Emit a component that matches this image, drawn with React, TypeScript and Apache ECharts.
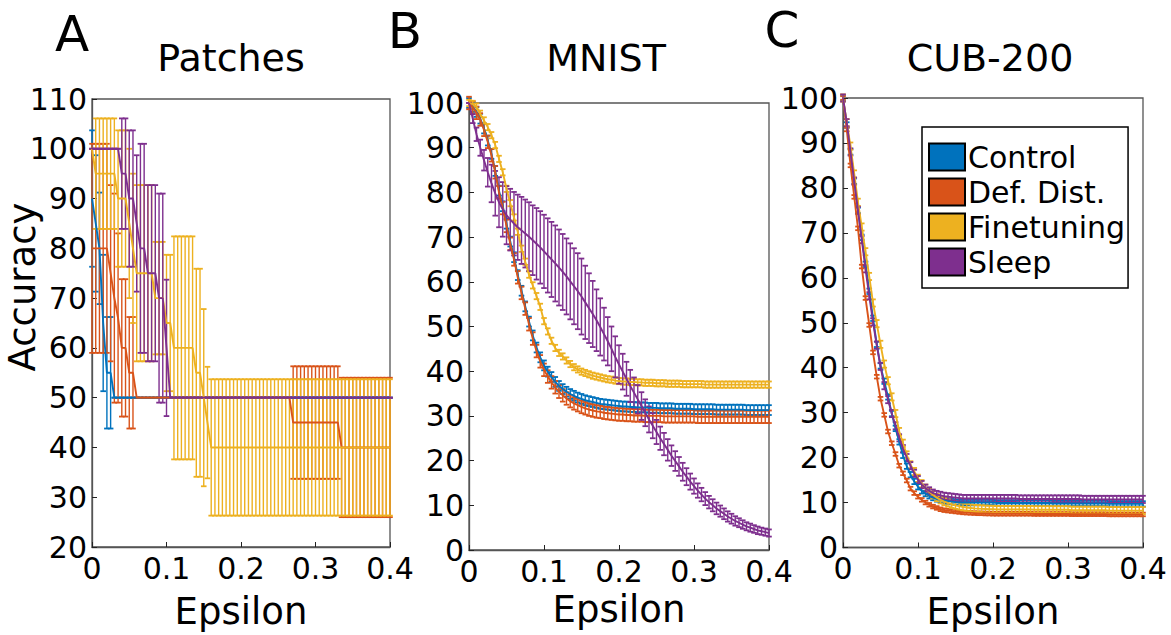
import React, { useEffect, useRef } from 'react';
import * as echarts from 'echarts';

// Epsilon values (x) shared by all panels
const EPS = [
  0, 0.005, 0.01, 0.015, 0.02, 0.025, 0.03, 0.035, 0.04, 0.045,
  0.05, 0.055, 0.06, 0.065, 0.07, 0.075, 0.08, 0.085, 0.09, 0.095,
  0.1, 0.105, 0.11, 0.115, 0.12, 0.125, 0.13, 0.135, 0.14, 0.145,
  0.15, 0.155, 0.16, 0.165, 0.17, 0.175, 0.18, 0.185, 0.19, 0.195,
  0.2, 0.205, 0.21, 0.215, 0.22, 0.225, 0.23, 0.235, 0.24, 0.245,
  0.25, 0.255, 0.26, 0.265, 0.27, 0.275, 0.28, 0.285, 0.29, 0.295,
  0.3, 0.305, 0.31, 0.315, 0.32, 0.325, 0.33, 0.335, 0.34, 0.345,
  0.35, 0.355, 0.36, 0.365, 0.37, 0.375, 0.38, 0.385, 0.39, 0.395,
  0.4,
];

const SERIES_NAMES = ['Control', 'Def. Dist.', 'Finetuning', 'Sleep'];
const SERIES_COLORS = ['#0072BD', '#D95319', '#EDB120', '#7E2F8E'];
const PANEL_TITLES = ['Patches', 'MNIST', 'CUB-200'];
const PANEL_LETTERS = ['A', 'B', 'C'];
const X_TICKS = [0, 0.1, 0.2, 0.3, 0.4];

// ---------- Panel A: Patches ----------
const A_CONTROL = [
  90, 85, 80, 65, 55, 55, 50, 50, 50, 50,
  50, 50, 50, 50, 50, 50, 50, 50, 50, 50,
  50, 50, 50, 50, 50, 50, 50, 50, 50, 50,
  50, 50, 50, 50, 50, 50, 50, 50, 50, 50,
  50, 50, 50, 50, 50, 50, 50, 50, 50, 50,
  50, 50, 50, 50, 50, 50, 50, 50, 50, 50,
  50, 50, 50, 50, 50, 50, 50, 50, 50, 50,
  50, 50, 50, 50, 50, 50, 50, 50, 50, 50,
  50,
];
const A_CONTROL_ERR = [
  13.7, 13.7, 11.2, 13.7, 11.2, 11.2, 0, 0, 0, 0,
  0, 0, 0, 0, 0, 0, 0, 0, 0, 0,
  0, 0, 0, 0, 0, 0, 0, 0, 0, 0,
  0, 0, 0, 0, 0, 0, 0, 0, 0, 0,
  0, 0, 0, 0, 0, 0, 0, 0, 0, 0,
  0, 0, 0, 0, 0, 0, 0, 0, 0, 0,
  0, 0, 0, 0, 0, 0, 0, 0, 0, 0,
  0, 0, 0, 0, 0, 0, 0, 0, 0, 0,
  0,
];
const A_DEFDIST = [
  80, 80, 80, 80, 80, 75, 70, 66, 60, 60,
  55, 55, 50, 50, 50, 50, 50, 50, 50, 50,
  50, 50, 50, 50, 50, 50, 50, 50, 50, 50,
  50, 50, 50, 50, 50, 50, 50, 50, 50, 50,
  50, 50, 50, 50, 50, 50, 50, 50, 50, 50,
  50, 50, 50, 50, 45, 45, 45, 45, 45, 45,
  45, 45, 45, 45, 45, 45, 45, 40, 40, 40,
  40, 40, 40, 40, 40, 40, 40, 40, 40, 40,
  40,
];
const A_DEFDIST_ERR = [
  21, 21, 21, 21, 21, 17.7, 21, 17, 13.8, 13.8,
  11.2, 11.2, 0, 0, 0, 0, 0, 0, 0, 0,
  0, 0, 0, 0, 0, 0, 0, 0, 0, 0,
  0, 0, 0, 0, 0, 0, 0, 0, 0, 0,
  0, 0, 0, 0, 0, 0, 0, 0, 0, 0,
  0, 0, 0, 0, 11.3, 11.3, 11.3, 11.3, 11.3, 11.3,
  11.3, 11.3, 11.3, 11.3, 11.3, 11.3, 11.3, 14, 14, 14,
  14, 14, 14, 14, 14, 14, 14, 14, 14, 14,
  14,
];
const A_FINETUNING = [
  100, 95, 95, 95, 95, 95, 95, 90, 90, 90,
  85, 80, 75, 75, 75, 75, 75, 70, 70, 70,
  65, 65, 60, 60, 60, 60, 60, 60, 55, 55,
  50, 45, 40, 40, 40, 40, 40, 40, 40, 40,
  40, 40, 40, 40, 40, 40, 40, 40, 40, 40,
  40, 40, 40, 40, 40, 40, 40, 40, 40, 40,
  40, 40, 40, 40, 40, 40, 40, 40, 40, 40,
  40, 40, 40, 40, 40, 40, 40, 40, 40, 40,
  40,
];
const A_FINETUNING_ERR = [
  0, 11.1, 11.1, 11.1, 11.1, 11.1, 11.1, 13.7, 13.7, 13.7,
  15, 15, 17.7, 17.7, 17.7, 17.7, 17.7, 11.3, 11.3, 11.3,
  13.7, 13.7, 22.4, 22.4, 22.4, 22.4, 22.4, 22.4, 20.9, 20.9,
  17.8, 11.2, 13.7, 13.7, 13.7, 13.7, 13.7, 13.7, 13.7, 13.7,
  13.7, 13.7, 13.7, 13.7, 13.7, 13.7, 13.7, 13.7, 13.7, 13.7,
  13.7, 13.7, 13.7, 13.7, 13.7, 13.7, 13.7, 13.7, 13.7, 13.7,
  13.7, 13.7, 13.7, 13.7, 13.7, 13.7, 13.7, 13.7, 13.7, 13.7,
  13.7, 13.7, 13.7, 13.7, 13.7, 13.7, 13.7, 13.7, 13.7, 13.7,
  13.7,
];
const A_SLEEP = [
  100, 100, 100, 100, 100, 100, 100, 100, 95, 95,
  90, 90, 85, 80, 80, 75, 75, 75, 70, 70,
  60, 50, 50, 50, 50, 50, 50, 50, 50, 50,
  50, 50, 50, 50, 50, 50, 50, 50, 50, 50,
  50, 50, 50, 50, 50, 50, 50, 50, 50, 50,
  50, 50, 50, 50, 50, 50, 50, 50, 50, 50,
  50, 50, 50, 50, 50, 50, 50, 50, 50, 50,
  50, 50, 50, 50, 50, 50, 50, 50, 50, 50,
  50,
];
const A_SLEEP_ERR = [
  0, 0, 0, 0, 0, 0, 0, 0, 11.1, 11.1,
  13.7, 13.7, 13.7, 21, 21, 17.7, 17.7, 17.7, 21, 21,
  13.7, 0, 0, 0, 0, 0, 0, 0, 0, 0,
  0, 0, 0, 0, 0, 0, 0, 0, 0, 0,
  0, 0, 0, 0, 0, 0, 0, 0, 0, 0,
  0, 0, 0, 0, 0, 0, 0, 0, 0, 0,
  0, 0, 0, 0, 0, 0, 0, 0, 0, 0,
  0, 0, 0, 0, 0, 0, 0, 0, 0, 0,
  0,
];

// ---------- Panel B: MNIST ----------
const B_CONTROL = [
  100, 99.1, 98, 96.5, 94.3, 91.6, 88.6, 84.8, 80.4, 76.9,
  73, 69, 65.5, 61.5, 58, 54.5, 51.1, 48, 45.3, 43.1,
  41.3, 39.9, 38.7, 37.6, 36.7, 36, 35.4, 34.9, 34.5, 34.1,
  33.8, 33.5, 33.3, 33.1, 32.9, 32.7, 32.6, 32.5, 32.4, 32.3,
  32.2, 32.1, 32.1, 32, 32, 31.9, 31.9, 31.9, 31.8, 31.8,
  31.8, 31.7, 31.7, 31.7, 31.7, 31.6, 31.6, 31.6, 31.6, 31.6,
  31.5, 31.5, 31.5, 31.5, 31.5, 31.5, 31.4, 31.4, 31.4, 31.4,
  31.4, 31.4, 31.4, 31.4, 31.3, 31.3, 31.3, 31.3, 31.3, 31.3,
  31.3,
];
const B_CONTROL_ERR = 1.1;
const B_DEFDIST = [
  100, 99, 97.8, 96.3, 94, 91.3, 88.3, 84.5, 80, 76.5,
  72.5, 68.5, 65, 61, 57.5, 54, 50.5, 47.3, 44.5, 42.2,
  40.3, 38.8, 37.5, 36.4, 35.4, 34.6, 33.9, 33.3, 32.8, 32.4,
  32, 31.7, 31.4, 31.2, 31, 30.9, 30.7, 30.6, 30.5, 30.4,
  30.3, 30.3, 30.2, 30.2, 30.1, 30.1, 30.1, 30, 30, 30,
  30, 30, 29.9, 29.9, 29.9, 29.9, 29.9, 29.9, 29.9, 29.9,
  29.9, 29.8, 29.8, 29.8, 29.8, 29.8, 29.8, 29.8, 29.8, 29.8,
  29.8, 29.8, 29.8, 29.8, 29.8, 29.8, 29.8, 29.8, 29.8, 29.8,
  29.8,
];
const B_DEFDIST_ERR = 1.4;
const B_FINETUNING = [
  100, 99.8, 99.2, 97.6, 96.1, 94.6, 92.8, 90.6, 87.5, 84.5,
  80.8, 77.6, 74.4, 71.2, 67.4, 64.5, 61.6, 59.2, 56.8, 54.4,
  51.2, 48.9, 46.8, 45.2, 44.1, 43.3, 42.4, 41.6, 40.9, 40.4,
  39.9, 39.6, 39.3, 39, 38.8, 38.6, 38.4, 38.2, 38.1, 37.9,
  37.8, 37.7, 37.7, 37.6, 37.6, 37.5, 37.5, 37.4, 37.4, 37.4,
  37.3, 37.3, 37.3, 37.2, 37.2, 37.2, 37.2, 37.1, 37.1, 37.1,
  37.1, 37.1, 37.1, 37, 37, 37, 37, 37, 37, 37,
  37, 37, 37, 37, 37, 37, 37, 37, 37, 37,
  37,
];
const B_FINETUNING_ERR = 0.7;
const B_SLEEP = [
  100, 96.5, 93, 90, 87.2, 84.5, 82, 79.8, 77.8, 76.2,
  74.9, 73.9, 73, 72.2, 71.5, 70.8, 70.1, 69.3, 68.5, 67.7,
  66.8, 65.9, 65, 64.1, 63.2, 62.2, 61.2, 60.1, 59, 57.9,
  56.7, 55.4, 54.1, 52.8, 51.4, 49.9, 48.3, 46.7, 45, 43.2,
  41.5, 39.9, 38.3, 36.7, 35.2, 33.7, 32.2, 30.7, 29.2, 27.8,
  26.4, 25, 23.7, 22.4, 21.1, 19.9, 18.7, 17.5, 16.4, 15.3,
  14.3, 13.3, 12.4, 11.5, 10.7, 10, 9.3, 8.7, 8.1, 7.5,
  7, 6.5, 6.1, 5.7, 5.3, 5, 4.7, 4.4, 4.2, 4,
  3.8,
];
const B_SLEEP_ERR = [
  0, 1, 1.5, 1.8, 2.3, 3.2, 4.2, 5, 5.6, 6.1,
  6.5, 6.9, 7.1, 7.3, 7.5, 7.6, 7.7, 7.8, 8, 8.1,
  8.2, 8.3, 8.4, 8.5, 8.5, 8.5, 8.5, 8.5, 8.5, 8.5,
  8.5, 8.2, 7.8, 7.4, 6.9, 6.4, 5.9, 5.4, 5, 4.6,
  4.3, 4, 3.8, 3.6, 3.4, 3.2, 3.1, 3, 2.9, 2.8,
  2.7, 2.6, 2.5, 2.4, 2.3, 2.2, 2.1, 2, 1.9, 1.8,
  1.7, 1.6, 1.5, 1.45, 1.4, 1.35, 1.3, 1.25, 1.2, 1.15,
  1.1, 1.05, 1, 0.95, 0.9, 0.9, 0.85, 0.85, 0.8, 0.8,
  0.8,
];

// ---------- Panel C: CUB-200 ----------
const C_CONTROL = [
  100, 94, 88, 81.5, 75, 69, 63, 57, 51, 45.2,
  40.4, 37, 33.5, 29.8, 26.5, 23.5, 20.5, 18.1, 16.2, 14.7,
  13.5, 12.6, 12, 11.5, 11.1, 10.8, 10.6, 10.4, 10.3, 10.2,
  10.1, 10, 10, 10, 10, 10, 10, 10, 10, 10,
  10, 9.9, 9.9, 9.9, 9.9, 9.9, 9.9, 9.9, 9.9, 9.9,
  9.9, 9.9, 9.9, 9.9, 9.9, 9.9, 9.8, 9.8, 9.8, 9.8,
  9.8, 9.8, 9.8, 9.8, 9.8, 9.8, 9.8, 9.8, 9.8, 9.8,
  9.8, 9.7, 9.7, 9.7, 9.7, 9.7, 9.7, 9.7, 9.7, 9.7,
  9.7,
];
const C_CONTROL_ERR = 0.6;
const C_DEFDIST = [
  100, 93, 85, 78, 71, 62.5, 55.5, 49.5, 43.4, 38,
  33.1, 29.5, 25.8, 23.2, 20.8, 18.2, 16.5, 14.9, 13.1, 12.1,
  11.3, 10.6, 10, 9.5, 9.1, 8.8, 8.5, 8.3, 8.2, 8.1,
  8, 7.9, 7.8, 7.75, 7.7, 7.65, 7.6, 7.6, 7.55, 7.55,
  7.5, 7.5, 7.5, 7.5, 7.5, 7.5, 7.5, 7.5, 7.5, 7.5,
  7.5, 7.45, 7.45, 7.45, 7.45, 7.45, 7.45, 7.45, 7.45, 7.45,
  7.45, 7.4, 7.4, 7.4, 7.4, 7.4, 7.4, 7.4, 7.4, 7.4,
  7.4, 7.35, 7.35, 7.35, 7.35, 7.35, 7.35, 7.35, 7.35, 7.35,
  7.35,
];
const C_DEFDIST_ERR = 0.4;
const C_FINETUNING = [
  100, 94.5, 89.3, 83.1, 76.8, 71.3, 65.8, 60.3, 54.4, 49.8,
  45.2, 40.8, 37.1, 33.5, 29.8, 25.8, 23.2, 20.6, 18.4, 16.9,
  15.4, 14.2, 13.2, 12.4, 11.7, 11.1, 10.6, 10.2, 9.9, 9.6,
  9.4, 9.2, 9, 8.9, 8.8, 8.7, 8.65, 8.6, 8.55, 8.5,
  8.5, 8.45, 8.45, 8.45, 8.45, 8.45, 8.45, 8.45, 8.45, 8.45,
  8.45, 8.4, 8.4, 8.4, 8.4, 8.4, 8.4, 8.4, 8.4, 8.4,
  8.4, 8.3, 8.3, 8.3, 8.3, 8.3, 8.3, 8.3, 8.3, 8.3,
  8.3, 8.2, 8.2, 8.2, 8.2, 8.2, 8.2, 8.2, 8.2, 8.2,
  8.2,
];
const C_FINETUNING_ERR = 0.8;
const C_SLEEP = [
  100, 94.5, 88, 81.5, 75, 68.5, 62, 56, 50.2, 45,
  40.3, 36, 32.9, 29.8, 27.1, 24.4, 22, 20, 18.2, 16.5,
  15.1, 14, 13.2, 12.6, 12.1, 11.8, 11.6, 11.4, 11.3, 11.2,
  11.1, 11, 10.9, 10.9, 10.9, 10.9, 10.9, 10.9, 10.9, 10.9,
  10.9, 10.9, 10.9, 10.9, 10.9, 10.9, 10.9, 10.8, 10.8, 10.8,
  10.8, 10.8, 10.8, 10.8, 10.8, 10.8, 10.8, 10.8, 10.8, 10.8,
  10.8, 10.8, 10.8, 10.8, 10.7, 10.7, 10.7, 10.7, 10.7, 10.7,
  10.7, 10.7, 10.7, 10.7, 10.7, 10.7, 10.7, 10.7, 10.7, 10.7,
  10.7,
];
const C_SLEEP_ERR = 0.8;

const PANEL_MEANS = [
  [A_CONTROL, A_DEFDIST, A_FINETUNING, A_SLEEP],
  [B_CONTROL, B_DEFDIST, B_FINETUNING, B_SLEEP],
  [C_CONTROL, C_DEFDIST, C_FINETUNING, C_SLEEP],
];
const PANEL_ERRS: (number | number[])[][] = [
  [A_CONTROL_ERR, A_DEFDIST_ERR, A_FINETUNING_ERR, A_SLEEP_ERR],
  [B_CONTROL_ERR, B_DEFDIST_ERR, B_FINETUNING_ERR, B_SLEEP_ERR],
  [C_CONTROL_ERR, C_DEFDIST_ERR, C_FINETUNING_ERR, C_SLEEP_ERR],
];
const Y_RANGES = [
  [20, 110],
  [0, 100],
  [0, 100],
];

// layout (pixels)
const GRIDS = [
  { left: 92, top: 99, width: 298, height: 448 },
  { left: 469, top: 103, width: 300, height: 447 },
  { left: 843, top: 98, width: 300, height: 454 },
];
const X_NAME_GAPS = [64, 47, 64];
const TITLE_X = [231, 606, 990];
const LETTER_POS = [
  [72, 34],
  [405, 31],
  [782, 30],
];

const FONT = 'DejaVu Sans';

function lineData(means: number[]) {
  return EPS.map((x, i) => [x, means[i]]);
}
function barData(means: number[], err: number | number[]) {
  return EPS.map((x, i) => {
    const e = Array.isArray(err) ? err[i] : err;
    return [x, means[i] - e, means[i] + e];
  });
}

function makeErrRender(color: string) {
  return (params: any, api: any) => {
    const x = api.value(0);
    const lo = api.coord([x, api.value(1)]);
    const hi = api.coord([x, api.value(2)]);
    const hw = 2.8;
    const style = { stroke: color, lineWidth: 1.4 };
    const capStyle = { stroke: color, lineWidth: 1.8 };
    return {
      type: 'group',
      children: [
        { type: 'line', shape: { x1: lo[0], y1: lo[1], x2: hi[0], y2: hi[1] }, style },
        { type: 'line', shape: { x1: hi[0] - hw, y1: hi[1], x2: hi[0] + hw, y2: hi[1] }, style: capStyle },
        { type: 'line', shape: { x1: lo[0] - hw, y1: lo[1], x2: lo[0] + hw, y2: lo[1] }, style: capStyle },
      ],
    };
  };
}

function buildOption() {
  const grid: any[] = [];
  const xAxis: any[] = [];
  const yAxis: any[] = [];
  const series: any[] = [];
  const graphic: any[] = [];

  GRIDS.forEach((g, p) => {
    grid.push({
      ...g,
      show: true,
      borderColor: '#555',
      borderWidth: 1.3,
      backgroundColor: '#fff',
      containLabel: false,
    });
    xAxis.push({
      type: 'value',
      gridIndex: p,
      min: 0,
      max: 0.4,
      interval: 0.1,
      name: 'Epsilon',
      nameLocation: 'middle',
      nameGap: X_NAME_GAPS[p],
      nameTextStyle: { fontSize: 37, color: '#000', fontFamily: FONT, verticalAlign: 'middle' },
      axisLine: { show: true, onZero: false, lineStyle: { color: '#555', width: 1.3 } },
      axisTick: { show: true, inside: true, length: 5, lineStyle: { color: '#222', width: 1 } },
      axisLabel: {
        show: true,
        fontSize: 30,
        color: '#000',
        fontFamily: FONT,
        margin: 6,
        showMinLabel: true,
        showMaxLabel: true,
        formatter: (v: number) => {
          const r = Math.round(v * 10) / 10;
          return X_TICKS.indexOf(r) >= 0 ? String(r) : '';
        },
      },
      splitLine: { show: false },
    });
    yAxis.push({
      type: 'value',
      gridIndex: p,
      min: Y_RANGES[p][0],
      max: Y_RANGES[p][1],
      interval: 10,
      axisLine: { show: true, onZero: false, lineStyle: { color: '#555', width: 1.3 } },
      axisTick: { show: true, inside: true, length: 5, lineStyle: { color: '#222', width: 1 } },
      axisLabel: {
        show: true,
        fontSize: 30,
        color: '#000',
        fontFamily: FONT,
        margin: 5,
        showMinLabel: true,
        showMaxLabel: true,
      },
      splitLine: { show: false },
    });

    PANEL_MEANS[p].forEach((means, s) => {
      const color = SERIES_COLORS[s];
      series.push({
        type: 'custom',
        xAxisIndex: p,
        yAxisIndex: p,
        renderItem: makeErrRender(color),
        encode: { x: 0, y: [1, 2] },
        data: barData(means, PANEL_ERRS[p][s]),
        silent: true,
      });
      series.push({
        type: 'line',
        name: SERIES_NAMES[s],
        xAxisIndex: p,
        yAxisIndex: p,
        data: lineData(means),
        showSymbol: false,
        symbol: 'none',
        color,
        lineStyle: { color, width: 1.9 },
        silent: true,
      });
    });

    graphic.push({
      type: 'text',
      x: TITLE_X[p],
      y: 58,
      style: {
        text: PANEL_TITLES[p],
        fontSize: 38,
        fontFamily: FONT,
        fill: '#000',
        align: 'center',
        verticalAlign: 'middle',
      },
    });
    graphic.push({
      type: 'text',
      x: LETTER_POS[p][0],
      y: LETTER_POS[p][1],
      style: {
        text: PANEL_LETTERS[p],
        fontSize: 50,
        fontFamily: FONT,
        fill: '#000',
        align: 'center',
        verticalAlign: 'middle',
      },
    });
  });

  graphic.push({
    type: 'text',
    x: 22,
    y: 287,
    rotation: Math.PI / 2,
    style: {
      text: 'Accuracy',
      fontSize: 37,
      fontFamily: FONT,
      fill: '#000',
      align: 'center',
      verticalAlign: 'middle',
    },
  });

  return {
    animation: false,
    backgroundColor: '#fff',
    textStyle: { fontFamily: FONT },
    grid,
    xAxis,
    yAxis,
    series,
    graphic,
    legend: {
      data: SERIES_NAMES,
      orient: 'vertical',
      left: 922,
      top: 127,
      icon: 'rect',
      itemWidth: 36,
      itemHeight: 27,
      itemGap: 5,
      padding: [15, 3, 11, 6],
      backgroundColor: '#fff',
      borderColor: '#000',
      borderWidth: 1.5,
      borderRadius: 0,
      selectedMode: false,
      itemStyle: { borderColor: '#000', borderWidth: 2 },
      textStyle: { fontSize: 30, color: '#000', fontFamily: FONT, padding: [0, 0, 0, -2] },
    },
  };
}

export default function App() {
  const ref = useRef<HTMLDivElement>(null);
  useEffect(() => {
    if (!ref.current) return;
    const chart = echarts.init(ref.current, null, { renderer: 'svg' });
    chart.setOption(buildOption() as any);
    return () => chart.dispose();
  }, []);
  return (
    <div
      ref={ref}
      style={{ position: 'absolute', left: 0, top: 0, width: 1171, height: 635, background: '#fff' }}
    />
  );
}
